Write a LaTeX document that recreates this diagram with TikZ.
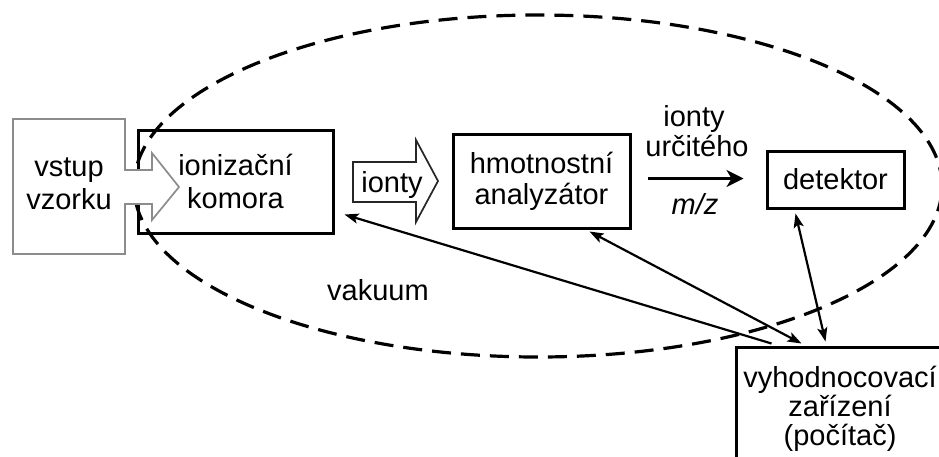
\documentclass[tikz,border=0pt]{standalone}
\usepackage{fontspec}
\setmainfont{Liberation Sans}
\usetikzlibrary{arrows.meta,calc}
\begin{document}
\begin{tikzpicture}[x=1pt,y=-1pt,
  txt/.style={font=\fontsize{29}{33}\selectfont, inner sep=0pt},
  box/.style={txt, draw, line width=3pt, fill=white, align=center},
  link/.style={line width=2.2pt},
  sharp/.tip={Stealth[length=14pt,width=10pt,inset=3pt]},
  wide/.tip={Stealth[length=17pt,width=17pt,inset=5pt]},
  vacuum/.style={line width=3.2pt, dash pattern=on 19pt off 10pt},
]
\useasboundingbox (0,0) rectangle (939,456);
\fill[white] (0,0) rectangle (939,456);
\clip (0,0) rectangle (939,456);

% instrument blocks
\node[box, minimum width=195pt, minimum height=103pt] (komora) at (235.5,181.5) {ionizační\\komora};
\node[box, font=\fontsize{29}{31}\selectfont, minimum width=177pt, minimum height=94pt] (analyzer) at (541.5,181) {hmotnostní\\analyzátor};
\node[box, minimum width=137pt, minimum height=57pt] (detektor) at (835.5,179.5) {detektor};
\node[box, font=\fontsize{29}{29}\selectfont, minimum width=208pt, minimum height=123pt] (vyhod) at (840,408.5) {vyhodnocovací\\zařízení\\(počítač)};

% vacuum region
\draw[vacuum] (538,186) ellipse [x radius=404pt, y radius=171pt];
\node[txt, anchor=base] (vakuum) at (378,300) {vakuum};

% sample inlet with its feed arrow
\draw[line width=1.7pt, draw=black!45, fill=white]
  (13,119) -- (125,119) -- (125,170) -- (152,170) -- (152,153) -- (179,187)
  -- (152,220) -- (152,204) -- (125,204) -- (125,254) -- (13,254) -- cycle;
\node[txt, align=center] (vstup) at (69,184) {vstup\\vzorku};

% ion beam block arrow
\draw[line width=1.7pt, draw=black!85, fill=white]
  (353,162) -- (416,162) -- (416,140) -- (438,181) -- (416,222) -- (416,202) -- (353,202) -- cycle;
\node[txt] (ionty) at (392,184.5) {ionty};

% selected ions towards the detector
\draw[link, -wide] ($(analyzer.east)+(16,-2.5)$) -- ($(detektor.west)+(-22,-1)$);
\node[txt, anchor=base] (lab1) at (694,126) {ionty};
\node[txt, anchor=base] (lab2) at (697,156) {určitého};
\node[txt, anchor=base] (lab3) at (695,214) {\itshape m/z};

% control and data links
\draw[link, sharp-] ($(komora.south east)+(10,-20)$) -- ($(vyhod.north west)+(37,-2)$);
\draw[link, sharp-sharp] ($(analyzer.south east)+(-42,2)$) -- ($(vyhod.north west)+(67,-2)$);
\draw[link, sharp-sharp] ($(detektor.south west)+(30,4)$) -- ($(vyhod.north west)+(91,-4)$);
\end{tikzpicture}
\end{document}
